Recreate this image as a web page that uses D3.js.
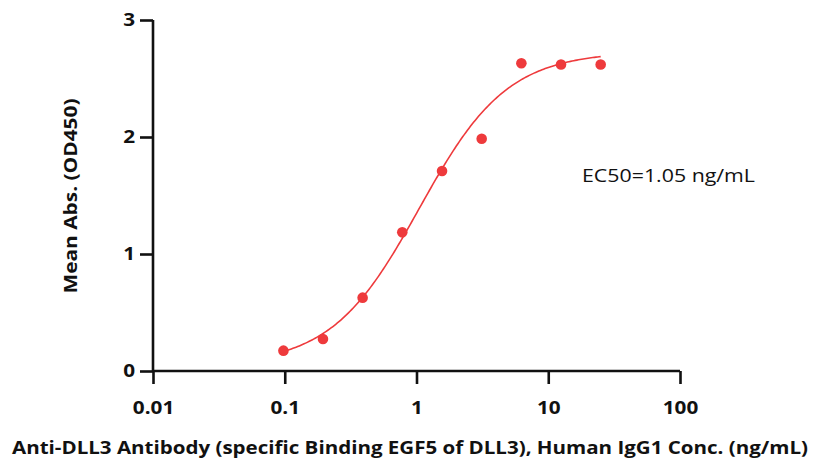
<!DOCTYPE html>
<html>
<head>
<meta charset="utf-8">
<script src="https://cdn.jsdelivr.net/npm/d3@7"></script>
<style>
  html, body { margin: 0; padding: 0; background: #fff; }
  svg { display: block; }
  text { font-family: "Open Sans", "DejaVu Sans", sans-serif; fill: #111; }
</style>
</head>
<body>
<svg id="chart" width="821" height="464"></svg>
<script>
// Data
const concentrations = [0.0977, 0.195, 0.39, 0.78, 1.5625, 3.125, 6.25, 12.5, 25];
const meanAbs = [0.174, 0.274, 0.627, 1.185, 1.71, 1.985, 2.63, 2.62, 2.62];
const xTicks = [0.01, 0.1, 1, 10, 100];
const xTickLabels = ["0.01", "0.1", "1", "10", "100"];
const yTicks = [0, 1, 2, 3];
// 4-parameter logistic fit (as shown in the reference)
const fitBottom = 0.05, fitTop = 2.73, fitEC50 = 1.05, fitHill = 1.3;
const ec50Label = "EC50=1.05 ng/mL";
const xTitle = "Anti-DLL3 Antibody (specific Binding EGF5 of DLL3), Human IgG1 Conc. (ng/mL)";
const yTitle = "Mean Abs. (OD450)";

const svg = d3.select("#chart");
const red = "#ee3a3c";

const x = d3.scaleLog().domain([0.01, 100]).range([153, 680]);
const y = d3.scaleLinear().domain([0, 3]).range([371, 20]);

// stretch text horizontally to match the reference's wide lettering
function stretch(sel, factor) {
  sel.each(function() {
    const w = this.getComputedTextLength();
    d3.select(this).attr("textLength", w * factor).attr("lengthAdjust", "spacingAndGlyphs");
  });
}

// axes
const xAxis = d3.axisBottom(x).tickValues(xTicks).tickFormat((d, i) => xTickLabels[i]).tickSize(13).tickPadding(18);
const gx = svg.append("g").attr("transform", `translate(0,${y(0)})`).call(xAxis);
const yAxis = d3.axisLeft(y).tickValues(yTicks).tickFormat(d3.format("d")).tickSize(13).tickPadding(5);
const gy = svg.append("g").attr("transform", `translate(${x(0.01)},0)`).call(yAxis);

[gx, gy].forEach(g => {
  g.select(".domain").attr("stroke", "#111").attr("stroke-width", 2.6);
  g.selectAll(".tick line").attr("stroke", "#111").attr("stroke-width", 2.6);
  g.selectAll(".tick text").attr("font-family", "'Open Sans', sans-serif").attr("font-weight", 700).attr("font-size", 17).attr("fill", "#111");
  stretch(g.selectAll(".tick text"), 1.22);
});
// domains without outer ticks
gx.select(".domain").attr("d", `M${x(0.01)},0H${x(100)}`);
gy.select(".domain").attr("d", `M0,${y(3)}V${y(0)}`);

// fitted curve
const f = c => fitBottom + (fitTop - fitBottom) / (1 + Math.pow(fitEC50 / c, fitHill));
const lo = Math.log10(concentrations[0]), hi = Math.log10(concentrations[concentrations.length - 1]);
const curveX = d3.range(0, 201).map(i => Math.pow(10, lo + i / 200 * (hi - lo)));
svg.append("path")
  .datum(curveX)
  .attr("fill", "none")
  .attr("stroke", red)
  .attr("stroke-width", 1.6)
  .attr("d", d3.line().x(c => x(c)).y(c => y(f(c))));

// points
svg.append("g").selectAll("circle")
  .data(concentrations.map((c, i) => ({c, v: meanAbs[i]})))
  .join("circle")
  .attr("cx", d => x(d.c))
  .attr("cy", d => y(d.v))
  .attr("r", 5.3)
  .attr("fill", red);

// EC50 label
svg.append("text")
  .attr("x", 582).attr("y", 182)
  .attr("font-size", 19)
  .attr("textLength", 173).attr("lengthAdjust", "spacingAndGlyphs")
  .text(ec50Label);

// axis titles
svg.append("text")
  .attr("x", 410).attr("y", 454)
  .attr("text-anchor", "middle")
  .attr("font-weight", 700)
  .attr("font-size", 18)
  .attr("textLength", 796).attr("lengthAdjust", "spacingAndGlyphs")
  .text(xTitle);

svg.append("text")
  .attr("transform", "translate(77,196) rotate(-90)")
  .attr("text-anchor", "middle")
  .attr("font-weight", 700)
  .attr("font-size", 18)
  .attr("textLength", 195).attr("lengthAdjust", "spacingAndGlyphs")
  .text(yTitle);
</script>
</body>
</html>
